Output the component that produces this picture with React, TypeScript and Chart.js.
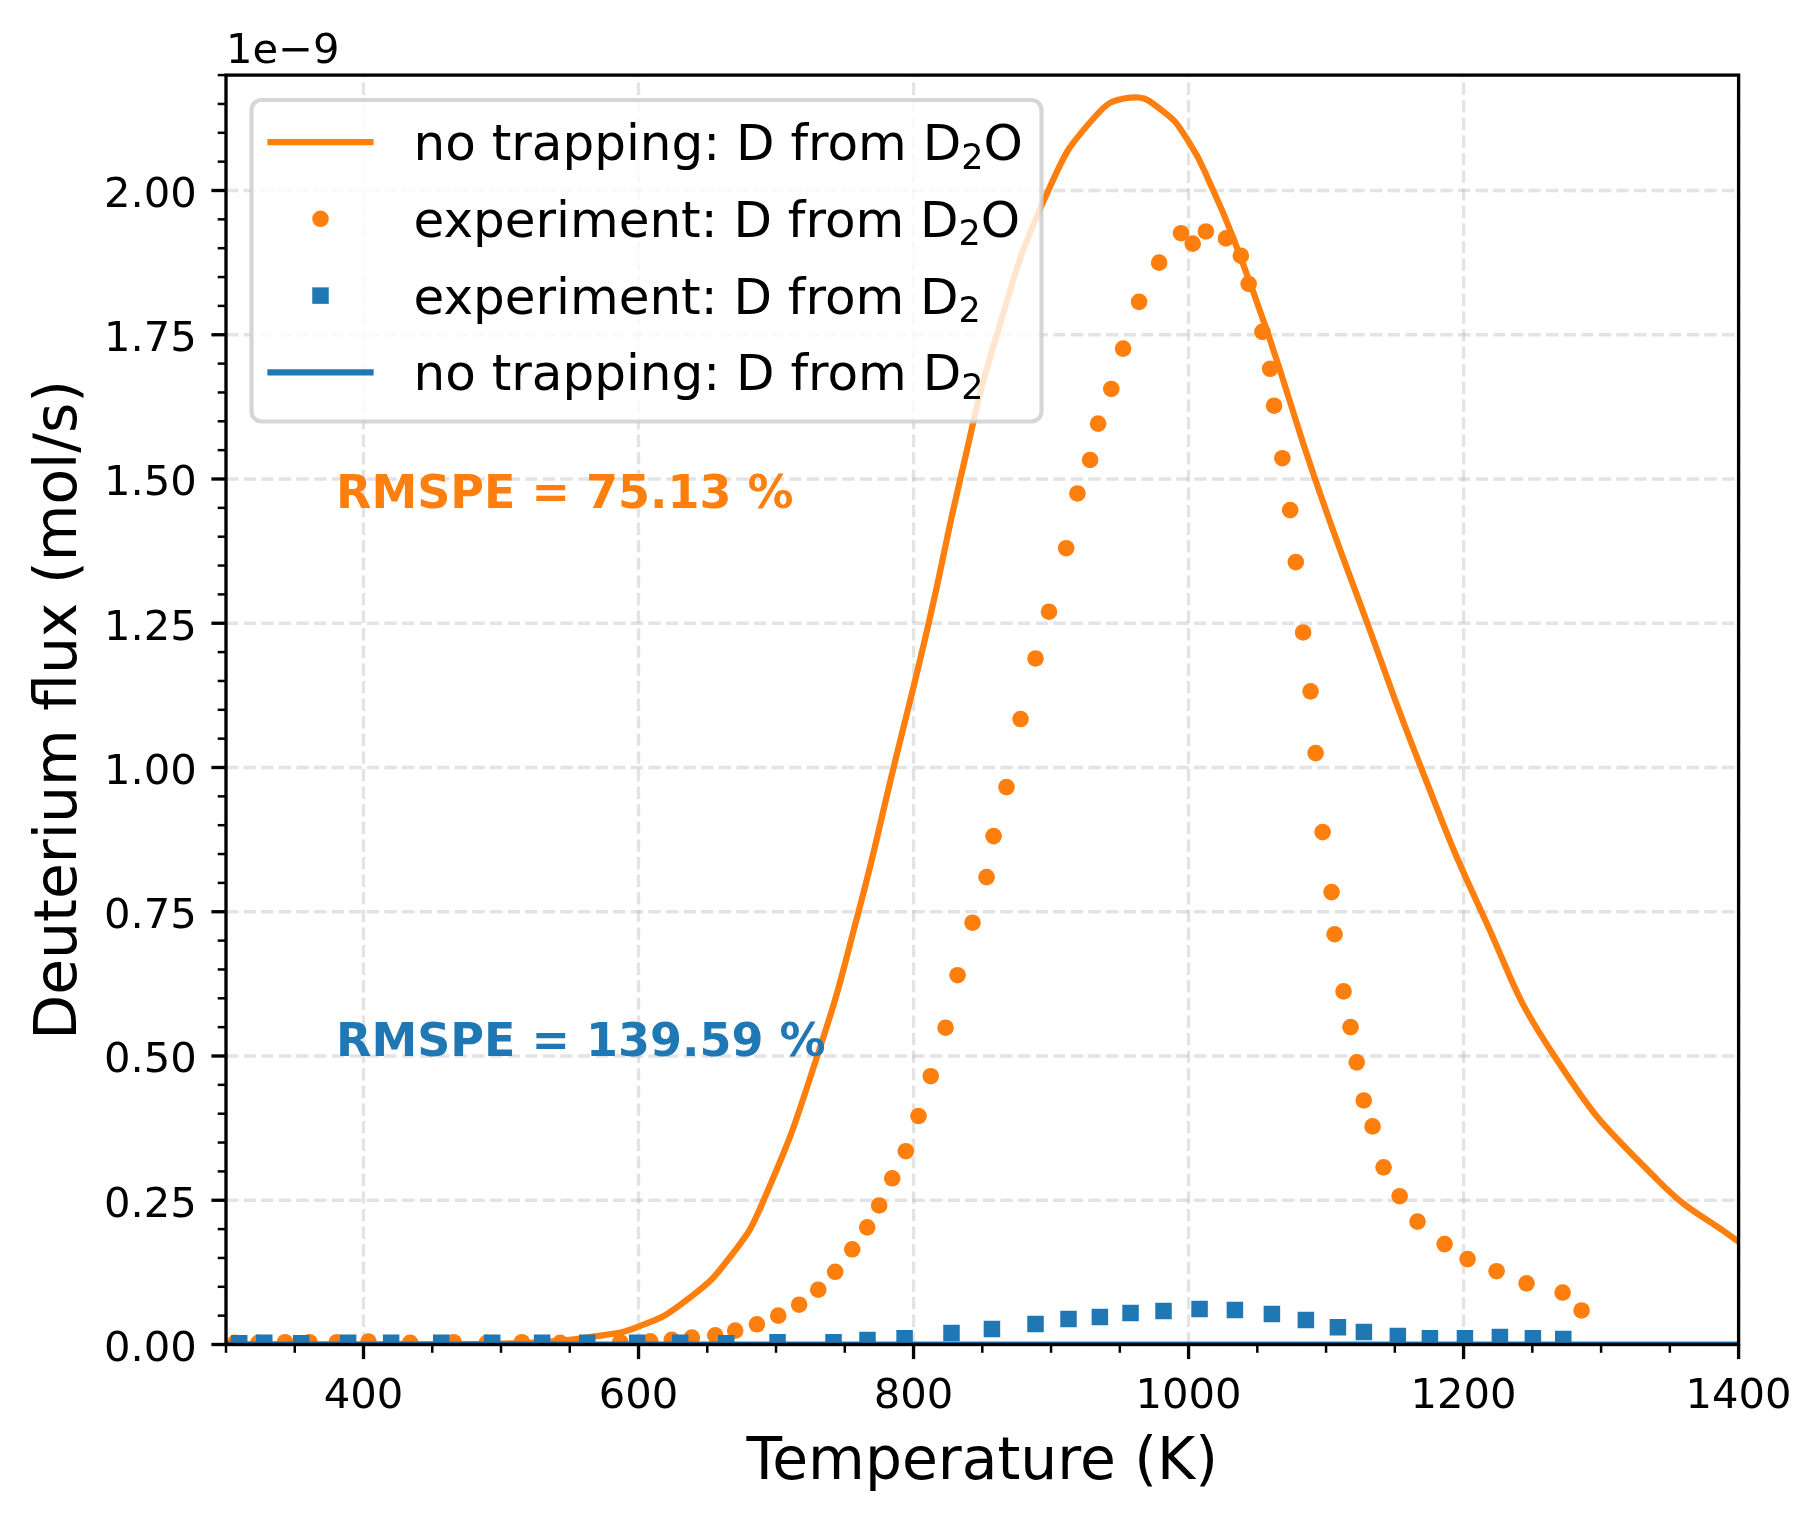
import React, { useEffect, useRef } from "react";
import { Chart, registerables } from "chart.js";

Chart.register(...registerables);

const W = 1819;
const H = 1520;
const ORANGE = "#ff7f0e";
const BLUE = "#1f77b4";
const GRID = "rgba(176,176,176,0.35)";
const FONT = '"DejaVu Sans", "Liberation Sans", sans-serif';

// Experiment: deuterium released from D2O exposure (T in K, flux in 1e-9 mol/s)
const expD2OTemp = [
  306.7, 323.6, 343, 360.7, 380.6, 403.6, 433.9, 465.5, 489.7, 515.2, 543, 586.7,
  608.5, 624.2, 638.8, 655.8, 670.3, 686.1, 701.6, 716.8, 730.7, 743, 755.4, 766.3,
  775, 784.5, 794.4, 803.6, 812.5, 823.3, 832, 842.9, 853.1, 858.2, 867.6, 877.8,
  888.7, 898.5, 911, 919.2, 928.4, 934.2, 943.8, 952.4, 964, 978.6, 994.5, 1003,
  1012.6, 1027.2, 1038, 1043.7, 1053.7, 1059.3, 1062.2, 1068.2, 1073.9, 1078,
  1083.3, 1088.7, 1092.4, 1097.5, 1104, 1106.2, 1112.7, 1117.8, 1122.3, 1127.4,
  1133.8, 1141.8, 1153.5, 1166.5, 1186.2, 1202.9, 1224, 1245.8, 1272, 1285.8,
];
const expD2OFlux = [
  0.003, 0.003, 0.004, 0.004, 0.004, 0.005, 0.003, 0.004, 0.003, 0.004, 0.003, 0.004,
  0.0055, 0.008, 0.012, 0.016, 0.024, 0.035, 0.05, 0.069, 0.095, 0.126, 0.165, 0.203,
  0.241, 0.288, 0.335, 0.396, 0.465, 0.549, 0.64, 0.731, 0.81, 0.881, 0.966, 1.084,
  1.189, 1.27, 1.38, 1.475, 1.533, 1.596, 1.656, 1.726, 1.807, 1.875, 1.926, 1.908,
  1.929, 1.917, 1.887, 1.838, 1.755, 1.691, 1.627, 1.536, 1.446, 1.356,
  1.234, 1.132, 1.025, 0.888, 0.784, 0.711, 0.612, 0.55, 0.489, 0.423,
  0.378, 0.307, 0.257, 0.213, 0.174, 0.148, 0.127, 0.106, 0.09, 0.059,
];

// Experiment: deuterium released from D2 exposure
const expD2Temp = [
  309.6, 327.8, 354.7, 388.8, 420.1, 456.5, 493.6, 529.9, 562.7, 599, 630.3, 663.8,
  701.1, 741.8, 766.5, 793.5, 827.6, 857, 888.7, 912.7, 935.5, 957.8, 981.8, 1008,
  1033.7, 1060.6, 1085.3, 1108.6, 1127.5, 1152.2, 1175.5, 1201, 1226.4, 1250.4, 1272.5,
];
const expD2Flux = [
  0.002, 0.003, 0.002, 0.003, 0.003, 0.003, 0.003, 0.003, 0.003, 0.003, 0.003, 0.002,
  0.004, 0.004, 0.008, 0.011, 0.02, 0.027, 0.0355, 0.044, 0.0477, 0.0546, 0.058, 0.0615,
  0.06, 0.053, 0.0425, 0.03, 0.0217, 0.0147, 0.011, 0.011, 0.013, 0.011, 0.0095,
];

// Simulation without trapping: D from D2O
const modelD2OTemp = [
  300, 350, 400, 450, 500, 540, 567, 600, 635, 667, 691, 730, 760, 785.5, 811, 834,
  860.6, 898, 931.6, 957.6, 980, 1000, 1017, 1033, 1058, 1092, 1130,
  1169, 1213, 1266, 1341.5, 1400,
];
const modelD2OFlux = [
  0, 0, 0, 0.0003, 0.0015, 0.006, 0.0136, 0.031, 0.077, 0.153, 0.25, 0.5, 0.75, 1.0, 1.25, 1.5,
  1.75, 2.0, 2.127, 2.161, 2.14, 2.085, 2.005, 1.915, 1.75, 1.5, 1.25,
  1.0, 0.75, 0.5, 0.284, 0.178,
];

// Simulation without trapping: D from D2 (stays at zero on this scale)
const modelD2Temp = [300, 500, 700, 900, 1100, 1300, 1400];
const modelD2Flux = [0, 0, 0, 0, 0, 0, 0];

const xMajorTicks = [400, 600, 800, 1000, 1200, 1400];
const xTickLabels = ["400", "600", "800", "1000", "1200", "1400"];
const xMinorTicks = [
  300, 350, 450, 500, 550, 650, 700, 750, 850, 900, 950, 1050, 1100, 1150, 1250, 1300, 1350,
];
const yMajorTicks = [0, 0.25, 0.5, 0.75, 1.0, 1.25, 1.5, 1.75, 2.0];
const yTickLabels = ["0.00", "0.25", "0.50", "0.75", "1.00", "1.25", "1.50", "1.75", "2.00"];
const yMinorTicks = [
  0.05, 0.1, 0.15, 0.2, 0.3, 0.35, 0.4, 0.45, 0.55, 0.6, 0.65, 0.7, 0.8, 0.85, 0.9, 0.95,
  1.05, 1.1, 1.15, 1.2, 1.3, 1.35, 1.4, 1.45, 1.55, 1.6, 1.65, 1.7, 1.8, 1.85, 1.9, 1.95,
  2.05, 2.1, 2.15, 2.2,
];

const legendEntries = [
  { kind: "line", color: ORANGE, parts: ["no trapping: D from D", "2", "O"] },
  { kind: "circle", color: ORANGE, parts: ["experiment: D from D", "2", "O"] },
  { kind: "square", color: BLUE, parts: ["experiment: D from D", "2", ""] },
  { kind: "line", color: BLUE, parts: ["no trapping: D from D", "2", ""] },
];

const rmspeNotes = [
  { text: "RMSPE = 75.13 %", x: 380, y: 1.45, color: ORANGE },
  { text: "RMSPE = 139.59 %", x: 380, y: 0.5, color: BLUE },
];

const toPoints = (xs: number[], ys: number[]) => xs.map((x, i) => ({ x, y: ys[i] }));

const frameLW = 3.33;

const mplFrame = {
  id: "mplFrame",
  beforeDraw(chart: any) {
    const { ctx } = chart;
    ctx.save();
    ctx.fillStyle = "#ffffff";
    ctx.fillRect(0, 0, chart.width, chart.height);
    ctx.restore();
  },
  beforeDatasetsDraw(chart: any) {
    const { ctx, chartArea: a } = chart;
    const xs = chart.scales.x;
    const ys = chart.scales.y;
    ctx.save();
    ctx.strokeStyle = GRID;
    ctx.lineWidth = frameLW;
    ctx.setLineDash([12.3, 5.3]);
    for (const t of xMajorTicks) {
      const px = xs.getPixelForValue(t);
      ctx.beginPath();
      ctx.moveTo(px, a.bottom);
      ctx.lineTo(px, a.top);
      ctx.stroke();
    }
    for (const v of yMajorTicks) {
      const py = ys.getPixelForValue(v);
      ctx.beginPath();
      ctx.moveTo(a.left, py);
      ctx.lineTo(a.right, py);
      ctx.stroke();
    }
    ctx.restore();
  },
  afterDatasetsDraw(chart: any) {
    const { ctx, chartArea: a } = chart;
    const xs = chart.scales.x;
    const ys = chart.scales.y;
    ctx.save();

    // annotations
    ctx.font = `bold 46px ${FONT}`;
    ctx.textAlign = "left";
    ctx.textBaseline = "alphabetic";
    for (const n of rmspeNotes) {
      ctx.fillStyle = n.color;
      ctx.fillText(n.text, xs.getPixelForValue(n.x), ys.getPixelForValue(n.y));
    }

    // spines
    ctx.strokeStyle = "#000";
    ctx.lineWidth = frameLW;
    ctx.setLineDash([]);
    ctx.strokeRect(a.left, a.top, a.right - a.left, a.bottom - a.top);

    // ticks
    const tick = (x1: number, y1: number, x2: number, y2: number, w: number) => {
      ctx.lineWidth = w;
      ctx.beginPath();
      ctx.moveTo(x1, y1);
      ctx.lineTo(x2, y2);
      ctx.stroke();
    };
    for (const t of xMajorTicks) {
      const px = xs.getPixelForValue(t);
      tick(px, a.bottom, px, a.bottom + 14.6, frameLW);
    }
    for (const t of xMinorTicks) {
      const px = xs.getPixelForValue(t);
      tick(px, a.bottom, px, a.bottom + 8.3, 2.5);
    }
    for (const v of yMajorTicks) {
      const py = ys.getPixelForValue(v);
      tick(a.left, py, a.left - 14.6, py, frameLW);
    }
    for (const v of yMinorTicks) {
      const py = ys.getPixelForValue(v);
      tick(a.left, py, a.left - 8.3, py, 2.5);
    }

    // tick labels
    ctx.fillStyle = "#000";
    ctx.font = `41.7px ${FONT}`;
    ctx.textAlign = "center";
    xMajorTicks.forEach((t, i) => {
      ctx.fillText(xTickLabels[i], xs.getPixelForValue(t), a.bottom + 63);
    });
    ctx.textAlign = "right";
    yMajorTicks.forEach((v, i) => {
      ctx.fillText(yTickLabels[i], a.left - 29.2, ys.getPixelForValue(v) + 16.3);
    });

    // offset text
    ctx.textAlign = "left";
    ctx.fillText("1e\u22129", a.left, a.top - 12);

    // axis titles
    ctx.font = `58.3px ${FONT}`;
    ctx.textAlign = "center";
    ctx.fillText("Temperature (K)", (a.left + a.right) / 2, 1479);
    ctx.save();
    ctx.translate(76, (a.top + a.bottom) / 2);
    ctx.rotate(-Math.PI / 2);
    ctx.fillText("Deuterium flux (mol/s)", 0, 0);
    ctx.restore();

    // legend
    const lx0 = 251.5, ly0 = 100, lx1 = 1041.5, ly1 = 421.5;
    ctx.beginPath();
    ctx.roundRect(lx0, ly0, lx1 - lx0, ly1 - ly0, 10);
    ctx.fillStyle = "rgba(255,255,255,0.8)";
    ctx.fill();
    ctx.strokeStyle = "rgba(204,204,204,0.8)";
    ctx.lineWidth = 4.17;
    ctx.stroke();

    legendEntries.forEach((e, i) => {
      const cy = 142 + i * 76.8;
      const cx = 320.5;
      if (e.kind === "line") {
        ctx.strokeStyle = e.color;
        ctx.lineWidth = 6.25;
        ctx.lineCap = "square";
        ctx.beginPath();
        ctx.moveTo(cx - 50, cy);
        ctx.lineTo(cx + 50, cy);
        ctx.stroke();
        ctx.lineCap = "butt";
      } else if (e.kind === "circle") {
        ctx.fillStyle = e.color;
        ctx.beginPath();
        ctx.arc(cx, cy, 8.3, 0, Math.PI * 2);
        ctx.fill();
      } else {
        ctx.fillStyle = e.color;
        ctx.fillRect(cx - 8.25, cy - 8.25, 16.5, 16.5);
      }
      ctx.fillStyle = "#000";
      ctx.textAlign = "left";
      let tx = 413.5;
      const base = cy + 18;
      ctx.font = `50px ${FONT}`;
      ctx.fillText(e.parts[0], tx, base);
      tx += ctx.measureText(e.parts[0]).width;
      ctx.font = `35px ${FONT}`;
      ctx.fillText(e.parts[1], tx, base + 8.5);
      tx += ctx.measureText(e.parts[1]).width;
      if (e.parts[2]) {
        ctx.font = `50px ${FONT}`;
        ctx.fillText(e.parts[2], tx, base);
      }
    });

    ctx.restore();
  },
};

export default function App() {
  const canvasRef = useRef<HTMLCanvasElement | null>(null);

  useEffect(() => {
    const canvas = canvasRef.current;
    if (!canvas) return;
    const chart = new Chart(canvas, {
      type: "scatter",
      data: {
        datasets: [
          {
            label: "no trapping: D from D\u2082O",
            data: toPoints(modelD2OTemp, modelD2OFlux),
            showLine: true,
            borderColor: ORANGE,
            borderWidth: 6.25,
            pointRadius: 0,
            tension: 0.5,
            clip: 0,
            order: 4,
          },
          {
            label: "experiment: D from D\u2082O",
            data: toPoints(expD2OTemp, expD2OFlux),
            showLine: false,
            pointStyle: "circle",
            pointRadius: 8.3,
            pointBackgroundColor: ORANGE,
            backgroundColor: ORANGE,
            pointBorderWidth: 0,
            borderWidth: 0,
            clip: 0,
            order: 3,
          },
          {
            label: "experiment: D from D\u2082",
            data: toPoints(expD2Temp, expD2Flux),
            showLine: false,
            pointStyle: "rect",
            pointRadius: 11.67,
            pointBackgroundColor: BLUE,
            backgroundColor: BLUE,
            pointBorderWidth: 0,
            borderWidth: 0,
            clip: 0,
            order: 2,
          },
          {
            label: "no trapping: D from D\u2082",
            data: toPoints(modelD2Temp, modelD2Flux),
            showLine: true,
            borderColor: BLUE,
            borderWidth: 6.25,
            pointRadius: 0,
            clip: 0,
            order: 1,
          },
        ] as any,
      },
      options: {
        animation: false,
        responsive: false,
        devicePixelRatio: 1,
        events: [],
        layout: {
          padding: { left: 226, top: 75.1, right: W - 1738.6, bottom: H - 1344.5 },
        },
        scales: {
          x: { type: "linear", min: 300, max: 1400, display: false },
          y: { type: "linear", min: 0, max: 2.2, display: false },
        },
        plugins: {
          legend: { display: false },
          tooltip: { enabled: false },
        },
      },
      plugins: [mplFrame],
    });
    return () => chart.destroy();
  }, []);

  return (
    <canvas
      ref={canvasRef}
      width={W}
      height={H}
      style={{ position: "fixed", left: 0, top: 0, width: W, height: H }}
    />
  );
}
